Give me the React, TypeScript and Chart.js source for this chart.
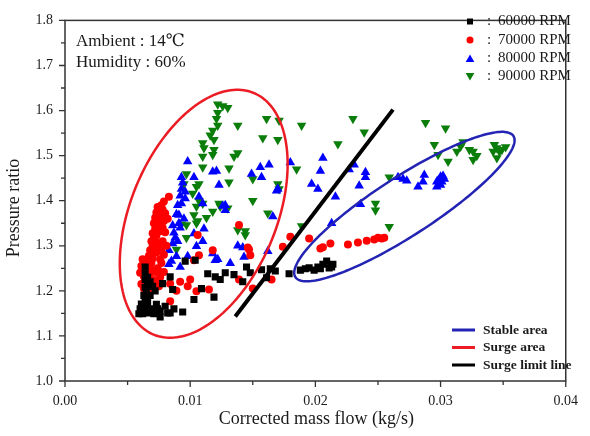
import React, { useEffect, useRef } from 'react';
import { Chart, registerables } from 'chart.js';

Chart.register(...registerables);

type Pt = [number, number];

const seriesLabels = ['60000 RPM', '70000 RPM', '80000 RPM', '90000 RPM'];
const regionLabels = ['Stable area', 'Surge area', 'Surge limit line'];
const annotationLines = ['Ambient : 14\u2103', 'Humidity : 60%'];
const xTitle = 'Corrected mass flow (kg/s)';
const yTitle = 'Pressure ratio';
const xRange: Pt = [0, 0.04];
const yRange: Pt = [1.0, 1.8];

const rpm60000: Pt[] = [
  [0.0059, 1.149], [0.0060, 1.160], [0.0062, 1.149], [0.0064, 1.155], [0.0065, 1.164],
  [0.0061, 1.171], [0.0064, 1.180], [0.0063, 1.190], [0.0065, 1.199], [0.0064, 1.208],
  [0.0066, 1.214], [0.0068, 1.220], [0.0064, 1.225], [0.0064, 1.238], [0.0064, 1.253],
  [0.0067, 1.151], [0.0070, 1.160], [0.0071, 1.149], [0.0074, 1.160], [0.0076, 1.155],
  [0.0076, 1.142], [0.0080, 1.166], [0.0082, 1.151], [0.0087, 1.160], [0.0094, 1.153],
  [0.0084, 1.151], [0.0062, 1.165], [0.0066, 1.175], [0.0068, 1.190], [0.0072, 1.200],
  [0.0070, 1.210], [0.0066, 1.230], [0.0073, 1.170], [0.0078, 1.216], [0.0084, 1.231],
  [0.0086, 1.203], [0.0096, 1.266], [0.0104, 1.268], [0.0103, 1.181], [0.0109, 1.205],
  [0.0114, 1.238], [0.0119, 1.186], [0.0120, 1.231], [0.0124, 1.225], [0.0128, 1.240],
  [0.0135, 1.236], [0.0142, 1.220], [0.0145, 1.253], [0.0148, 1.240], [0.0157, 1.247],
  [0.0161, 1.229], [0.0164, 1.249], [0.0168, 1.244], [0.0179, 1.238], [0.0188, 1.246],
  [0.0192, 1.249], [0.0195, 1.251], [0.0199, 1.246], [0.0202, 1.253], [0.0204, 1.249],
  [0.0206, 1.259], [0.0209, 1.266], [0.0211, 1.251], [0.0213, 1.253], [0.0214, 1.259],
];

const rpm70000: Pt[] = [
  [0.0083, 1.409], [0.0079, 1.398], [0.0077, 1.390], [0.0074, 1.386], [0.0078, 1.380],
  [0.0073, 1.374], [0.0076, 1.368], [0.0072, 1.362], [0.0075, 1.356], [0.0071, 1.350],
  [0.0074, 1.344], [0.0072, 1.338], [0.0076, 1.332], [0.0070, 1.328], [0.0073, 1.322],
  [0.0071, 1.316], [0.0069, 1.310], [0.0074, 1.306], [0.0070, 1.300], [0.0072, 1.294],
  [0.0068, 1.290], [0.0071, 1.284], [0.0067, 1.278], [0.0070, 1.272], [0.0066, 1.268],
  [0.0069, 1.262], [0.0065, 1.256], [0.0068, 1.250], [0.0064, 1.246], [0.0070, 1.242],
  [0.0066, 1.238], [0.0063, 1.232], [0.0067, 1.228], [0.0071, 1.224], [0.0064, 1.220],
  [0.0068, 1.215], [0.0073, 1.212], [0.0066, 1.208], [0.0070, 1.204], [0.0075, 1.210],
  [0.0072, 1.222], [0.0074, 1.250], [0.0077, 1.262], [0.0063, 1.262], [0.0062, 1.248],
  [0.0078, 1.340], [0.0080, 1.372],
  [0.0060, 1.240], [0.0061, 1.255], [0.0062, 1.270], [0.0076, 1.270], [0.0079, 1.280],
  [0.0081, 1.300], [0.0078, 1.310], [0.0080, 1.330], [0.0082, 1.360], [0.0079, 1.355],
  [0.0076, 1.230], [0.0074, 1.240], [0.0077, 1.290], [0.0075, 1.300], [0.0073, 1.285],
  [0.0063, 1.205], [0.0061, 1.215],
  [0.0084, 1.177], [0.0084, 1.216], [0.0092, 1.220], [0.0098, 1.210], [0.0105, 1.199],
  [0.0100, 1.225], [0.0115, 1.203], [0.0107, 1.279], [0.0118, 1.290], [0.0103, 1.268],
  [0.0106, 1.324], [0.0139, 1.225], [0.0148, 1.279], [0.0147, 1.292], [0.0150, 1.205],
  [0.0139, 1.346], [0.0146, 1.296], [0.0180, 1.320], [0.0174, 1.298], [0.0195, 1.316],
  [0.0204, 1.294], [0.0206, 1.297], [0.0212, 1.305], [0.0226, 1.303], [0.0234, 1.307],
  [0.0241, 1.311], [0.0247, 1.314], [0.0250, 1.318], [0.0253, 1.316], [0.0255, 1.318],
  [0.0074, 1.210], [0.0079, 1.242], [0.0089, 1.200], [0.0165, 1.225],
];

const rpm80000: Pt[] = [
  [0.0098, 1.487], [0.0093, 1.452], [0.0094, 1.440], [0.0093, 1.426], [0.0092, 1.411],
  [0.0096, 1.405], [0.0091, 1.368], [0.0103, 1.452], [0.0107, 1.409], [0.0110, 1.394],
  [0.0121, 1.466], [0.0118, 1.464], [0.0128, 1.379], [0.0126, 1.388], [0.0149, 1.459],
  [0.0156, 1.474], [0.0157, 1.452], [0.0163, 1.480], [0.0170, 1.426], [0.0180, 1.485],
  [0.0166, 1.365], [0.0093, 1.394], [0.0089, 1.370], [0.0091, 1.350], [0.0087, 1.329],
  [0.0088, 1.318], [0.0086, 1.305], [0.0083, 1.290], [0.0083, 1.259], [0.0085, 1.266],
  [0.0089, 1.277], [0.0092, 1.253], [0.0098, 1.277], [0.0105, 1.299], [0.0110, 1.310],
  [0.0103, 1.327], [0.0111, 1.338], [0.0118, 1.283], [0.0120, 1.268], [0.0132, 1.261],
  [0.0090, 1.310], [0.0092, 1.340], [0.0086, 1.345], [0.0095, 1.360], [0.0090, 1.390],
  [0.0096, 1.420], [0.0123, 1.435], [0.0169, 1.422], [0.0197, 1.437], [0.0204, 1.466],
  [0.0206, 1.495], [0.0202, 1.426], [0.0216, 1.409], [0.0227, 1.469], [0.0231, 1.480],
  [0.0240, 1.463], [0.0240, 1.452], [0.0235, 1.433], [0.0236, 1.392], [0.0128, 1.390],
  [0.0138, 1.300], [0.0142, 1.296], [0.0143, 1.275], [0.0162, 1.288], [0.0122, 1.270],
  [0.0213, 1.350],
  [0.0266, 1.452], [0.0270, 1.448], [0.0273, 1.444], [0.0282, 1.431], [0.0286, 1.442],
  [0.0287, 1.457], [0.0297, 1.431], [0.0298, 1.444], [0.0300, 1.453], [0.0302, 1.455],
  [0.0301, 1.442], [0.0297, 1.442], [0.0300, 1.435], [0.0303, 1.448],
];

const rpm90000: Pt[] = [
  [0.0122, 1.614], [0.0126, 1.610], [0.0130, 1.606], [0.0122, 1.595], [0.0121, 1.582],
  [0.0122, 1.567], [0.0118, 1.556], [0.0116, 1.545], [0.0119, 1.535], [0.0110, 1.528],
  [0.0111, 1.517], [0.0119, 1.513], [0.0118, 1.502], [0.0110, 1.498], [0.0110, 1.474],
  [0.0097, 1.459], [0.0107, 1.437], [0.0105, 1.431], [0.0102, 1.416], [0.0107, 1.400],
  [0.0095, 1.437], [0.0110, 1.394], [0.0118, 1.376], [0.0123, 1.394], [0.0131, 1.472],
  [0.0131, 1.441], [0.0135, 1.498], [0.0138, 1.506], [0.0138, 1.567], [0.0161, 1.582],
  [0.0171, 1.578], [0.0158, 1.539], [0.0170, 1.535], [0.0170, 1.437], [0.0171, 1.426],
  [0.0162, 1.372], [0.0150, 1.448], [0.0150, 1.400], [0.0130, 1.383], [0.0124, 1.387],
  [0.0105, 1.387], [0.0103, 1.368], [0.0105, 1.350], [0.0097, 1.346], [0.0106, 1.355],
  [0.0093, 1.348], [0.0113, 1.362], [0.0089, 1.292], [0.0097, 1.318], [0.0144, 1.333],
  [0.0138, 1.335], [0.0144, 1.324], [0.0189, 1.567], [0.0218, 1.526], [0.0185, 1.470],
  [0.0189, 1.344], [0.0230, 1.582], [0.0239, 1.552], [0.0259, 1.452], [0.0248, 1.394],
  [0.0248, 1.379], [0.0259, 1.342], [0.0288, 1.573], [0.0304, 1.561], [0.0295, 1.524],
  [0.0298, 1.502], [0.0306, 1.487], [0.0313, 1.509], [0.0316, 1.520], [0.0318, 1.530],
  [0.0323, 1.513], [0.0326, 1.509], [0.0329, 1.500], [0.0326, 1.491], [0.0343, 1.524],
  [0.0345, 1.517], [0.0347, 1.509], [0.0342, 1.509], [0.0349, 1.513], [0.0352, 1.519],
  [0.0345, 1.495],
];

// Surge limit line end points (data units)
const surgeLimitLine: Pt[] = [[0.0136, 1.143], [0.0262, 1.602]];

// Ellipses: centre and two conjugate semi-axis vectors, in data units
const surgeAreaCenter: Pt = [0.01108, 1.371];
const surgeAreaU: Pt = [0.0040, 0.268];
const surgeAreaV: Pt = [0.00538, -0.062];
const stableAreaCenter: Pt = [0.02711, 1.387];
const stableAreaU: Pt = [0.00871, 0.1565];
const stableAreaV: Pt = [0.00127, -0.0546];

const SERIF = '"Liberation Serif", "Times New Roman", "DejaVu Serif", serif';
const TEXT = '#1a1a1a';
const FRAME = '#333333';
const C_BLACK = '#000000';
const C_RED = '#ff0000';
const C_BLUE = '#0000ff';
const C_GREEN = '#0a7d0a';
const C_ELL_RED = '#ec1c24';
const C_ELL_BLUE = '#2323b4';

const toXY = (arr: Pt[]) => arr.map(([x, y]) => ({ x, y }));

function drawMarker(ctx: CanvasRenderingContext2D, style: string, x: number, y: number, r: number, color: string) {
  ctx.save();
  ctx.fillStyle = color;
  ctx.beginPath();
  if (style === 'rect') {
    ctx.rect(x - r, y - r, 2 * r, 2 * r);
  } else if (style === 'circle') {
    ctx.arc(x, y, r, 0, Math.PI * 2);
  } else if (style === 'up') {
    ctx.moveTo(x, y - r);
    ctx.lineTo(x + r * 0.866, y + r * 0.5);
    ctx.lineTo(x - r * 0.866, y + r * 0.5);
  } else {
    ctx.moveTo(x, y + r);
    ctx.lineTo(x + r * 0.866, y - r * 0.5);
    ctx.lineTo(x - r * 0.866, y - r * 0.5);
  }
  ctx.closePath();
  ctx.fill();
  ctx.restore();
}

function strokeEllipse(chart: any, c: Pt, u: Pt, v: Pt, color: string, width: number) {
  const { ctx, scales } = chart;
  const xs = scales.x;
  const ys = scales.y;
  ctx.save();
  ctx.strokeStyle = color;
  ctx.lineWidth = width;
  ctx.beginPath();
  const n = 180;
  for (let i = 0; i <= n; i++) {
    const t = (i / n) * Math.PI * 2;
    const dx = c[0] + u[0] * Math.cos(t) + v[0] * Math.sin(t);
    const dy = c[1] + u[1] * Math.cos(t) + v[1] * Math.sin(t);
    const px = xs.getPixelForValue(dx);
    const py = ys.getPixelForValue(dy);
    if (i === 0) ctx.moveTo(px, py);
    else ctx.lineTo(px, py);
  }
  ctx.closePath();
  ctx.stroke();
  ctx.restore();
}

const overlayPlugin = {
  id: 'overlay',
  afterDatasetsDraw(chart: any) {
    strokeEllipse(chart, surgeAreaCenter, surgeAreaU, surgeAreaV, C_ELL_RED, 2.5);
    strokeEllipse(chart, stableAreaCenter, stableAreaU, stableAreaV, C_ELL_BLUE, 2.5);
  },
  afterDraw(chart: any) {
    const { ctx, chartArea, scales } = chart;
    const { left, right, top, bottom } = chartArea;
    const xs = scales.x;
    const ys = scales.y;
    ctx.save();
    // frame
    ctx.strokeStyle = FRAME;
    ctx.lineWidth = 1.5;
    ctx.strokeRect(left, top, right - left, bottom - top);
    // ticks
    ctx.lineWidth = 1.3;
    ctx.beginPath();
    for (let v = xRange[0]; v <= xRange[1] + 1e-9; v += 0.005) {
      const px = xs.getPixelForValue(v);
      const major = Math.abs(Math.round(v / 0.01) * 0.01 - v) < 1e-9;
      ctx.moveTo(px, bottom);
      ctx.lineTo(px, bottom + (major ? 6 : 4));
    }
    for (let v = yRange[0]; v <= yRange[1] + 1e-9; v += 0.05) {
      const py = ys.getPixelForValue(v);
      const major = Math.abs(Math.round(v / 0.1) * 0.1 - v) < 1e-9;
      ctx.moveTo(left, py);
      ctx.lineTo(left - (major ? 6 : 4), py);
    }
    ctx.stroke();

    // axis titles
    ctx.fillStyle = TEXT;
    ctx.font = `18px ${SERIF}`;
    ctx.textAlign = 'center';
    ctx.textBaseline = 'middle';
    ctx.fillText(xTitle, (left + right) / 2 + 1, 419);
    ctx.save();
    ctx.translate(14, 208);
    ctx.rotate(-Math.PI / 2);
    ctx.fillText(yTitle, 0, 0);
    ctx.restore();

    // annotation text
    ctx.textAlign = 'left';
    ctx.font = `17px ${SERIF}`;
    ctx.fillText(annotationLines[0], left + 11, top + 21);
    ctx.fillText(annotationLines[1], left + 11, top + 42);

    // series legend (top-right)
    const styles = ['rect', 'circle', 'up', 'down'];
    const colors = [C_BLACK, C_RED, C_BLUE, C_GREEN];
    const sizes = [3, 3.5, 5, 5];
    const legY = [21.5, 40, 58.5, 76.5];
    ctx.font = `15px ${SERIF}`;
    for (let i = 0; i < seriesLabels.length; i++) {
      drawMarker(ctx, styles[i], 470, legY[i] + (styles[i] === 'up' ? 1 : styles[i] === 'down' ? -1 : 0), sizes[i], colors[i]);
      ctx.fillStyle = TEXT;
      ctx.fillText(':', 487, legY[i]);
      ctx.fillText(seriesLabels[i], 498, legY[i]);
    }

    // region legend (bottom-right)
    const regColors = [C_ELL_BLUE, C_ELL_RED, C_BLACK];
    const regY = [330, 347.5, 365];
    ctx.font = `bold 13.5px ${SERIF}`;
    for (let i = 0; i < regionLabels.length; i++) {
      ctx.strokeStyle = regColors[i];
      ctx.lineWidth = 3;
      ctx.beginPath();
      ctx.moveTo(452, regY[i]);
      ctx.lineTo(475, regY[i]);
      ctx.stroke();
      ctx.fillStyle = TEXT;
      ctx.fillText(regionLabels[i], 483, regY[i] + 0.5);
    }
    ctx.restore();
  },
};

export default function App() {
  const canvasRef = useRef<HTMLCanvasElement | null>(null);

  useEffect(() => {
    if (!canvasRef.current) return;
    const chart = new Chart(canvasRef.current, {
      type: 'scatter',
      data: {
        datasets: [
          {
            label: 'Surge limit line',
            data: toXY(surgeLimitLine),
            showLine: true,
            borderColor: C_BLACK,
            borderWidth: 4,
            pointRadius: 0,
            order: -1,
          } as any,
          {
            label: seriesLabels[0],
            data: toXY(rpm60000),
            pointStyle: 'rect',
            pointRadius: 5,
            backgroundColor: C_BLACK,
            borderColor: C_BLACK,
            borderWidth: 0,
          },
          {
            label: seriesLabels[1],
            data: toXY(rpm70000),
            pointStyle: 'circle',
            pointRadius: 4,
            backgroundColor: C_RED,
            borderColor: C_RED,
            borderWidth: 0,
          },
          {
            label: seriesLabels[2],
            data: toXY(rpm80000),
            pointStyle: 'triangle',
            pointRadius: 5.5,
            backgroundColor: C_BLUE,
            borderColor: C_BLUE,
            borderWidth: 0,
          },
          {
            label: seriesLabels[3],
            data: toXY(rpm90000),
            pointStyle: 'triangle',
            rotation: 180,
            pointRadius: 5.5,
            backgroundColor: C_GREEN,
            borderColor: C_GREEN,
            borderWidth: 0,
          } as any,
        ],
      },
      options: {
        animation: false,
        responsive: false,
        maintainAspectRatio: false,
        layout: { padding: { top: 12, right: 12, left: 0, bottom: 0 } },
        plugins: {
          legend: { display: false },
          tooltip: { enabled: false },
        },
        scales: {
          x: {
            type: 'linear',
            min: xRange[0],
            max: xRange[1],
            grid: { display: false, drawTicks: false },
            border: { display: false },
            afterFit: (s: any) => { s.height = 55; },
            ticks: {
              stepSize: 0.01,
              padding: 12,
              color: TEXT,
              font: { family: SERIF, size: 14 },
              callback: (v: any) => Number(v).toFixed(2),
            },
          },
          y: {
            type: 'linear',
            min: yRange[0],
            max: yRange[1],
            grid: { display: false, drawTicks: false },
            border: { display: false },
            afterFit: (s: any) => { s.width = 65; },
            ticks: {
              stepSize: 0.1,
              padding: 12,
              color: TEXT,
              font: { family: SERIF, size: 14 },
              callback: (v: any) => Number(v).toFixed(1),
            },
          },
        },
      },
      plugins: [overlayPlugin],
    } as any);
    return () => chart.destroy();
  }, []);

  return (
    <div style={{ position: 'absolute', left: 0, top: 0, width: 590, height: 436, background: '#fff' }}>
      <canvas ref={canvasRef} width={590} height={436} style={{ width: 590, height: 436, display: 'block' }} />
    </div>
  );
}
